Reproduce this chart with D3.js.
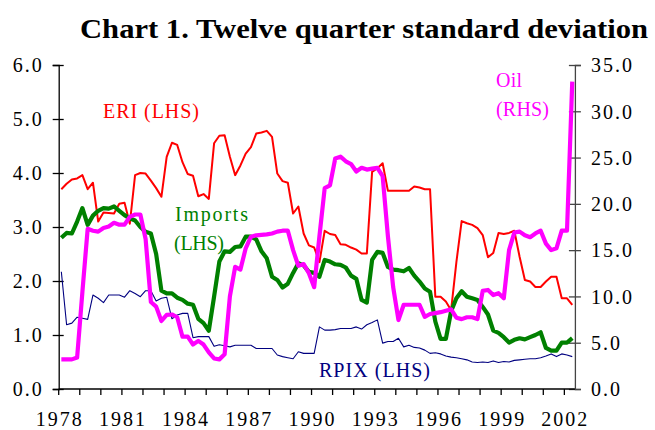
<!DOCTYPE html>
<html>
<head>
<meta charset="utf-8">
<script src="https://cdn.jsdelivr.net/npm/d3@7"></script>
<style>
  html, body { margin: 0; padding: 0; background: #fff; }
  svg text { font-family: "Liberation Serif", "Times New Roman", Times, serif; }
</style>
</head>
<body>
<svg id="chart" width="655" height="430"></svg>
<script>
// ---------------- data ----------------
const startYear = 1978;
const quarters = d3.range(98).map(i => `${startYear + Math.floor(i / 4)}Q${(i % 4) + 1}`);

const eri = [
  3.70, 3.80, 3.88, 3.90, 3.96, 3.70, 3.82, 3.10, 3.27, 3.26,
  3.25, 3.43, 3.45, 3.06, 3.96, 4.00, 3.99, 3.86, 3.72, 3.56,
  4.30, 4.56, 4.52, 4.20, 3.98, 3.95, 3.57, 3.61, 3.52, 4.55,
  4.69, 4.70, 4.30, 3.96, 4.14, 4.36, 4.48, 4.73, 4.75, 4.78,
  4.67, 3.99, 3.85, 3.82, 3.25, 3.38, 2.88, 2.66, 2.62, 2.35,
  2.93, 2.87, 2.85, 2.68, 2.67, 2.62, 2.58, 2.51, 2.51, 4.02,
  4.09, 4.18, 3.67, 3.67, 3.67, 3.67, 3.67, 3.75, 3.73, 3.70,
  3.70, 1.71, 1.71, 1.62, 1.46, 2.35, 3.11, 3.07, 3.04, 2.98,
  2.85, 2.44, 2.52, 2.89, 2.87, 2.89, 2.93, 2.45, 2.02, 1.99,
  1.89, 1.89, 1.99, 2.08, 2.08, 1.68, 1.68, 1.56
];

const imports = [
  2.80, 2.89, 2.88, 3.10, 3.35, 3.04, 3.21, 3.30, 3.35, 3.34,
  3.38, 3.30, 3.22, 3.16, 3.12, 3.00, 2.91, 2.88, 2.50, 1.82,
  1.77, 1.77, 1.69, 1.65, 1.58, 1.56, 1.30, 1.22, 1.08, 1.71,
  2.36, 2.55, 2.54, 2.63, 2.64, 2.82, 2.82, 2.77, 2.55, 2.42,
  2.08, 2.02, 1.88, 1.95, 2.15, 2.33, 2.29, 2.17, 2.15, 2.08,
  2.39, 2.36, 2.31, 2.30, 2.25, 2.10, 2.04, 1.65, 1.60, 2.39,
  2.54, 2.52, 2.26, 2.21, 2.20, 2.18, 2.24, 2.10, 1.99, 1.86,
  1.80, 1.25, 0.93, 0.93, 1.44, 1.68, 1.81, 1.71, 1.68, 1.65,
  1.52, 1.38, 1.08, 1.04, 0.96, 0.86, 0.91, 0.94, 0.92, 0.96,
  1.00, 1.05, 0.76, 0.71, 0.71, 0.86, 0.86, 0.94
];

const rpix = [
  2.17, 1.19, 1.22, 1.33, 1.31, 1.29, 1.74, 1.68, 1.60, 1.74,
  1.74, 1.74, 1.70, 1.82, 1.77, 1.71, 1.82, 1.82, 1.63, 1.68,
  1.70, 1.30, 1.37, 1.40, 1.40, 0.95, 0.97, 0.97, 0.97, 0.79,
  0.82, 0.80, 0.78, 0.81, 0.81, 0.81, 0.81, 0.75, 0.75, 0.75,
  0.75, 0.63, 0.60, 0.58, 0.56, 0.69, 0.66, 0.66, 0.66, 1.15,
  1.09, 1.09, 1.10, 1.12, 1.12, 1.12, 1.15, 1.11, 1.19, 1.23,
  1.28, 0.85, 0.88, 0.88, 0.94, 0.78, 0.81, 0.77, 0.76, 0.72,
  0.66, 0.67, 0.65, 0.61, 0.59, 0.58, 0.56, 0.54, 0.50, 0.49,
  0.50, 0.49, 0.52, 0.49, 0.51, 0.50, 0.53, 0.54, 0.55, 0.56,
  0.56, 0.58, 0.61, 0.65, 0.60, 0.65, 0.63, 0.60
];

// Oil is on the right-hand scale
const oil = [
  3.2, 3.2, 3.2, 3.4, 10.5, 17.3, 17.1, 17.0, 17.4, 17.55,
  17.95, 17.75, 17.75, 18.6, 18.85, 18.85, 16.2, 9.4, 8.9, 7.35,
  8.0, 8.05, 7.75, 5.65, 5.65, 4.8, 5.2, 4.8, 3.95, 3.3,
  3.2, 3.75, 10.0, 13.2, 12.9, 15.2, 16.45, 16.6, 16.65, 16.7,
  16.8, 17.0, 17.1, 17.1, 15.0, 13.3, 13.5, 12.5, 11.0, 16.5,
  21.7, 22.0, 24.9, 25.1, 24.6, 24.3, 23.5, 23.9, 23.7, 23.8,
  23.9, 23.0, 16.5, 11.0, 7.45, 9.1, 9.1, 9.1, 9.1, 7.8,
  8.1, 8.2, 8.3, 8.45, 8.6, 7.7, 7.55, 7.75, 7.75, 7.55,
  10.6, 10.7, 10.15, 10.35, 9.8, 15.0, 16.9, 17.0, 16.6, 16.4,
  16.8, 17.1, 15.7, 15.0, 15.2, 17.1, 17.1, 33.2
];

const leftTicks = [0, 1, 2, 3, 4, 5, 6];
const rightTicks = [0, 5, 10, 15, 20, 25, 30, 35];
const yearTicks = d3.range(1978, 2003);
const yearLabels = [1978, 1981, 1984, 1987, 1990, 1993, 1996, 1999, 2002];

// ---------------- layout ----------------
const FONT = '"Liberation Serif", "Times New Roman", Times, serif';
const svg = d3.select("#chart");
const plot = { left: 58.7, right: 574.9, top: 65, bottom: 389 };

const x = d3.scaleBand().domain(quarters).range([plot.left, plot.right]).paddingInner(0).paddingOuter(0);
const xc = q => x(q) + x.bandwidth() / 2;
const yL = d3.scaleLinear().domain([0, 6]).range([plot.bottom, plot.top]);
const yR = d3.scaleLinear().domain([0, 35]).range([plot.bottom, plot.top]);

// ---------------- title ----------------
svg.append("text")
  .attr("x", 80).attr("y", 38)
  .attr("textLength", 568).attr("lengthAdjust", "spacingAndGlyphs")
  .attr("font-family", FONT)
  .style("font-size", "28px").style("font-weight", "bold").attr("fill", "#000")
  .text("Chart 1. Twelve quarter standard deviation");

// ---------------- axes ----------------
const fmt = d3.format(".1f");

const gL = svg.append("g").attr("transform", `translate(${plot.left},0)`)
  .call(d3.axisLeft(yL).tickValues(leftTicks).tickFormat(fmt).tickSize(6).tickPadding(14));
gL.attr("font-family", FONT);
gL.select(".domain").attr("stroke", "#000").attr("stroke-width", 1.3);
gL.selectAll(".tick line").attr("x1", 5).attr("stroke", "#000").attr("stroke-width", 1.3);
gL.selectAll(".tick text").style("font-size", "20px").style("letter-spacing", "2px")
  .attr("fill", "#000").attr("x", -15).attr("dy", "0.34em");

const gR = svg.append("g").attr("transform", `translate(${plot.right},0)`)
  .call(d3.axisRight(yR).tickValues(rightTicks).tickFormat(fmt).tickSize(6).tickPadding(14));
gR.attr("font-family", FONT);
gR.select(".domain").attr("stroke", "#444").attr("stroke-width", 1.3);
gR.selectAll(".tick line").attr("x1", -6).attr("stroke", "#444").attr("stroke-width", 1.3);
gR.selectAll(".tick text").style("font-size", "20px").style("letter-spacing", "2px")
  .attr("fill", "#000").attr("x", 16).attr("dy", "0.34em");

// bottom axis: tick at the start of each year (band edge)
const yearX = yr => x(`${yr}Q1`);
const gB = svg.append("g").attr("font-family", FONT);
gB.append("line").attr("x1", plot.left).attr("x2", plot.right)
  .attr("y1", plot.bottom).attr("y2", plot.bottom).attr("stroke", "#000").attr("stroke-width", 1.3);
gB.selectAll("line.yt").data(yearTicks).join("line").attr("class", "yt")
  .attr("x1", d => yearX(d)).attr("x2", d => yearX(d))
  .attr("y1", plot.bottom).attr("y2", plot.bottom + 6).attr("stroke", "#000").attr("stroke-width", 1.3);
gB.selectAll("text").data(yearLabels).join("text")
  .attr("x", d => yearX(d) + 1).attr("y", 426).attr("text-anchor", "middle")
  .style("font-size", "20px").style("letter-spacing", "2px").attr("fill", "#000")
  .text(d => d);

// ---------------- series ----------------
const lineL = d3.line().x((d, i) => xc(quarters[i])).y(d => yL(d));
const lineR = d3.line().x((d, i) => xc(quarters[i])).y(d => yR(d));

const series = [
  { data: eri, line: lineL, color: "#FF0000", width: 2 },
  { data: imports, line: lineL, color: "#008000", width: 4.2 },
  { data: rpix, line: lineL, color: "#000080", width: 1.1 },
  { data: oil, line: lineR, color: "#FF00FF", width: 4.2 }
];
svg.append("g").selectAll("path").data(series).join("path")
  .attr("d", s => s.line(s.data))
  .attr("fill", "none")
  .attr("stroke", s => s.color)
  .attr("stroke-width", s => s.width)
  .attr("stroke-linejoin", "round")
  .attr("stroke-linecap", "butt");

// ---------------- series labels ----------------
const labels = [
  { t: "ERI (LHS)", x: 103, y: 118, len: 96, c: "#FF0000" },
  { t: "Imports", x: 175, y: 221, len: 73, c: "#008000" },
  { t: "(LHS)", x: 174, y: 250, len: 50, c: "#008000" },
  { t: "Oil", x: 496, y: 87, len: 26, c: "#FF00FF" },
  { t: "(RHS)", x: 496, y: 116, len: 53, c: "#FF00FF" },
  { t: "RPIX (LHS)", x: 319, y: 377, len: 111, c: "#000080" }
];
svg.append("g").attr("font-family", FONT).selectAll("text").data(labels).join("text")
  .attr("x", d => d.x).attr("y", d => d.y)
  .attr("textLength", d => d.len).attr("lengthAdjust", "spacing")
  .style("font-size", "20px").attr("fill", d => d.c)
  .text(d => d.t);
</script>
</body>
</html>
